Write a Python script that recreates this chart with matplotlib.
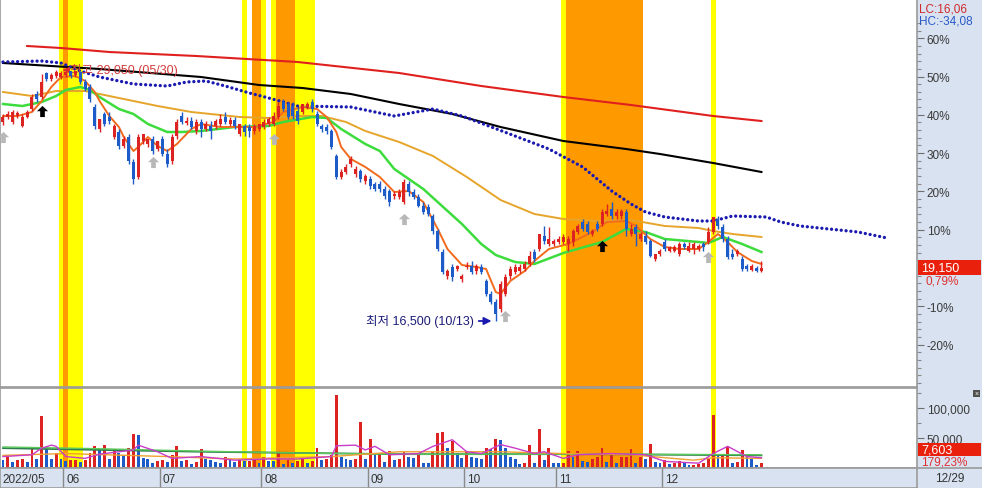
import matplotlib
matplotlib.use("Agg")
import matplotlib.pyplot as plt
from matplotlib.patches import Rectangle
from matplotlib.lines import Line2D
from matplotlib.path import Path
from matplotlib.ticker import FixedLocator, FixedFormatter

plt.rcParams['font.family'] = ['Liberation Sans', 'Noto Sans CJK KR', 'DejaVu Sans']

# ---------------- data ----------------
opens = [26450, 26700, 26450, 26750, 26250, 26700, 27100, 27850, 27700, 28900,
         28600, 28750, 28700, 28800, 29000, 28800, 28950, 28450, 28200, 27200,
         26100, 26850, 26700, 25700, 25950, 25250, 25700, 24450, 23700, 25500,
         25350, 25600, 25100, 25600, 24850, 24500, 25750, 26750, 26400, 26500,
         26000, 26450, 26100, 26250, 26250, 26350, 26700, 26350, 26550, 25850,
         26250, 26200, 26000, 26100, 26200, 26350, 26350, 26700, 27450, 27350,
         27250, 27000, 26950, 27200, 27450, 26850, 26250, 26200, 26000, 24750,
         23700, 23950, 24350, 23850, 24000, 23500, 23600, 23350, 23350, 23100,
         23000, 22750, 22700, 22450, 23350, 22950, 22700, 22250, 22200, 21750,
         21000, 19950, 18750, 19200, 19100, 18600, 19200, 19250, 19000, 19200,
         18500, 17850, 17450, 17100, 17850, 18750, 18950, 19000, 19100, 19350,
         19950, 20100, 20750, 20350, 20350, 20450, 20450, 20350, 20450, 20950,
         21450, 21350, 20850, 21350, 21350, 21850, 22100, 21750, 21750, 21950,
         20850, 21200, 20600, 20750, 20500, 19600, 19850, 20450, 20000, 20000,
         19850, 20350, 20000, 20100, 20100, 20350, 20450, 20950, 21600, 21200,
         20600, 19850, 19850, 19600, 19250, 19050, 19150, 19000]
highs = [26850, 27000, 27050, 27000, 26850, 27050, 27850, 28000, 28850, 28950,
         28900, 29050, 29000, 29000, 29000, 29000, 29000, 28600, 28350, 27350,
         26600, 26950, 26950, 26350, 26100, 25750, 25850, 24600, 25850, 25850,
         25600, 25750, 25500, 25750, 25100, 25850, 26600, 26950, 26700, 26700,
         26600, 26600, 26500, 26500, 26600, 26850, 26950, 26700, 26700, 26350,
         26350, 26350, 26350, 26350, 26600, 26700, 26950, 27450, 27600, 27450,
         27450, 27200, 27350, 27450, 27600, 27000, 26350, 26350, 26100, 24850,
         24100, 24350, 24750, 24250, 24100, 23850, 23750, 23450, 23500, 23250,
         23100, 23000, 23100, 23600, 23500, 23100, 22850, 22450, 22350, 21850,
         21100, 20100, 19100, 19350, 19300, 18850, 19450, 19500, 19350, 19350,
         18600, 18000, 17600, 18500, 18850, 19250, 19350, 19350, 19500, 20000,
         20100, 20850, 21250, 21200, 20600, 20750, 20850, 20750, 21100, 21350,
         21600, 21500, 21100, 21500, 22100, 22350, 22450, 22100, 22100, 22100,
         21350, 21350, 20950, 21000, 20600, 19850, 20100, 20600, 20250, 20300,
         20450, 20450, 20450, 20450, 20350, 20450, 21200, 21700, 21750, 21350,
         20750, 20100, 20100, 19750, 19350, 19350, 19250, 19500]
lows = [26300, 26600, 26350, 26650, 26200, 26650, 27000, 27450, 27600, 28500,
        28500, 28650, 28600, 28700, 28650, 28700, 28350, 28000, 27450, 26100,
        25950, 26250, 26350, 25600, 25100, 25150, 24350, 23350, 23600, 25350,
        25200, 24850, 25000, 24750, 24200, 24350, 25600, 26350, 26300, 26100,
        25850, 25700, 26000, 25600, 26100, 26250, 26350, 26250, 26100, 25750,
        25750, 25700, 25850, 26000, 26100, 26250, 26250, 26600, 27000, 26600,
        26600, 26350, 26850, 27100, 26950, 26250, 25950, 25850, 25100, 23600,
        23600, 23850, 24200, 23700, 23450, 23350, 23100, 23000, 22950, 22600,
        22250, 22600, 22600, 22350, 22750, 22600, 22200, 21850, 21750, 20850,
        20000, 18850, 18600, 18500, 19000, 18450, 19100, 18850, 18850, 18850,
        17750, 17350, 16500, 16950, 17750, 18600, 18850, 18900, 19000, 19250,
        19450, 20000, 20350, 20250, 20250, 20350, 20350, 20000, 20250, 20850,
        21000, 20850, 20750, 21000, 21250, 21750, 21600, 21600, 21600, 20750,
        20750, 20250, 20500, 20350, 19700, 19500, 19750, 20000, 19950, 19950,
        19750, 20100, 19950, 19850, 20000, 20000, 20350, 20850, 21100, 20450,
        19600, 19600, 19750, 19000, 19000, 19000, 18950, 18950]
closes = [26700, 26850, 26950, 26900, 26700, 26950, 27700, 27600, 28450, 28600,
          28800, 28950, 28900, 28950, 28750, 29000, 28450, 28100, 27600, 26250,
          26600, 26350, 26500, 26250, 25250, 25600, 24500, 23600, 25700, 25850,
          25600, 25000, 25500, 24850, 24350, 25700, 26450, 26450, 26500, 26200,
          26450, 26100, 26350, 26000, 26500, 26600, 26450, 26550, 26250, 26350,
          25950, 26000, 26250, 26350, 26450, 26600, 26750, 27250, 27100, 26700,
          26750, 26500, 27350, 27350, 27100, 26350, 26100, 26000, 25200, 23700,
          23950, 24200, 24600, 24100, 23600, 23750, 23250, 23100, 23100, 22750,
          22450, 22850, 22950, 23450, 22950, 22700, 22250, 21950, 21850, 21000,
          20100, 18950, 19000, 18700, 19250, 18750, 19250, 18950, 19250, 18950,
          17850, 17450, 16850, 18350, 18700, 19100, 19200, 19200, 19350, 19750,
          19600, 20850, 20500, 20600, 20500, 20600, 20700, 20600, 21000, 21250,
          21100, 20950, 21000, 21100, 21950, 22000, 21750, 21950, 22000, 21100,
          21100, 20850, 20850, 20450, 19750, 19850, 20000, 20100, 20200, 20200,
          20350, 20200, 20250, 20350, 20250, 20200, 20950, 21700, 21250, 20600,
          19700, 19700, 20000, 19100, 19100, 19250, 19000, 19150]
volumes = [13000, 18000, 10000, 13000, 15000, 10000, 35000, 15000, 87000, 35000,
           15000, 25000, 15000, 12000, 13000, 14000, 10000, 13000, 25000, 36000,
           30000, 38000, 15000, 32000, 25000, 22000, 33000, 56000, 55000, 17000,
           15000, 9000, 12000, 13000, 10000, 22000, 36000, 12000, 13000, 6000,
           10000, 32000, 15000, 13000, 10000, 9000, 18000, 13000, 10000, 13000,
           11000, 12000, 13000, 8000, 18000, 12000, 11000, 25000, 6000, 13000,
           8000, 12000, 15000, 8000, 12000, 33000, 13000, 15000, 22000, 122000,
           18000, 15000, 13000, 15000, 77000, 15000, 48000, 22000, 25000, 10000,
           28000, 13000, 15000, 27000, 18000, 17000, 25000, 9000, 8000, 27000,
           58000, 60000, 33000, 45000, 25000, 17000, 27000, 18000, 17000, 15000,
           33000, 32000, 48000, 46000, 33000, 18000, 15000, 6000, 8000, 38000,
           9000, 65000, 13000, 33000, 9000, 8000, 9000, 28000, 18000, 28000,
           12000, 10000, 15000, 18000, 33000, 10000, 23000, 8000, 18000, 19000,
           32000, 8000, 18000, 15000, 40000, 10000, 9000, 13000, 6000, 9000,
           12000, 8000, 4500, 5000, 6000, 9000, 15000, 88000, 20000, 22000,
           35000, 8000, 10000, 30000, 18000, 15000, 5000, 7603]

month_labels = ["2022/05", "06", "07", "08", "09", "10", "11", "12"]
month_starts = [0, 13, 33, 54, 76, 96, 115, 137]
last_date_label = "12/29"

ma5_idx = [0, 3, 6, 8, 10, 12, 15, 17, 19, 20, 22, 24, 25, 27, 28, 30, 32, 34, 36, 39,
           41, 45, 52, 56, 58, 62, 65, 67, 69, 70, 72, 75, 78, 81, 84, 87, 90, 92, 95, 98,
           100, 102, 103, 105, 108, 110, 113, 117, 122, 125, 129, 131, 134, 137, 140, 144,
           146, 148, 150, 152, 155, 157]
ma5_val = [26750, 26750, 26950, 27500, 28200, 28700, 28750, 28500, 27950, 27500,
           26750, 26200, 25700, 25000, 25200, 25700, 25250, 25000, 25350, 26100,
           26350, 26200, 26200, 26450, 26950, 27200, 27100, 26700, 25950, 25200,
           24600, 24200, 23700, 22950, 23000, 22450, 21100, 20100, 19300, 19200,
           19100, 17950, 17850, 18500, 19000, 19500, 20100, 20350, 20950, 21450,
           21500, 21250, 20600, 20200, 20100, 20100, 20450, 20850, 20450, 19950,
           19500, 19350]
ma20_idx = [0, 4, 8, 11, 13, 16, 18, 20, 24, 27, 30, 34, 37, 41, 48, 55, 58, 64, 67, 70,
            75, 78, 81, 87, 95, 99, 102, 106, 110, 116, 124, 129, 133, 137, 144, 146,
            149, 153, 157]
ma20_val = [27350, 27250, 27450, 27750, 28050, 28200, 28050, 27700, 27100, 26850,
            26350, 25950, 25950, 26000, 26200, 26250, 26450, 26700, 26650, 26100,
            25350, 25000, 24100, 23100, 21350, 20350, 19800, 19450, 19350, 19900,
            20450, 21100, 20950, 20600, 20450, 20400, 20700, 20350, 19950]
ma60_idx = [0, 6, 11, 17, 22, 27, 32, 39, 49, 55, 61, 66, 71, 75, 82, 89, 96, 103, 110,
            116, 123, 130, 137, 144, 147, 151, 157]
ma60_val = [27950, 27750, 28000, 28000, 27750, 27500, 27250, 26950, 26700, 26650,
            26750, 26750, 26450, 26000, 25450, 24750, 23700, 22550, 21850, 21600,
            21500, 21550, 21250, 21150, 21000, 20850, 20700]
ma120_idx = [0, 20, 41, 53, 62, 72, 82, 93, 103, 116, 129, 136, 147, 157]
ma120_val = [29400, 29100, 28700, 28300, 28150, 27850, 27350, 26850, 26200, 25500,
             25100, 24850, 24400, 23950]
ma240_idx = [5, 12, 22, 40, 61, 82, 99, 116, 130, 147, 157]
ma240_val = [30250, 30150, 29950, 29750, 29450, 28900, 28250, 27700, 27300, 26750, 26500]
span_idx = [0, 8, 12, 16, 20, 27, 34, 38, 42, 46, 51, 55, 61, 72, 81, 89, 95, 100, 106,
            113, 120, 126, 130, 133, 137, 144, 147, 151, 158, 161, 165, 173, 177, 183]
span_val = [29450, 29500, 29400, 29000, 28700, 28350, 28250, 28450, 28500, 28250,
            27900, 27650, 27250, 27200, 26750, 27100, 26750, 26300, 25750, 25100,
            24200, 23000, 22350, 21950, 21700, 21500, 21500, 21750, 21700, 21450,
            21250, 21050, 20950, 20650]

vma5_idx = [0, 6, 8, 10, 11, 13, 17, 20, 27, 28, 32, 35, 41, 48, 55, 61, 68, 69, 73, 75,
            77, 80, 86, 89, 93, 96, 99, 103, 106, 110, 112, 116, 119, 126, 133, 137, 144,
            147, 150, 154, 157]
vma5_val = [19000, 22000, 33000, 38000, 36000, 19000, 16000, 23000, 30000, 38000,
            27000, 16000, 19000, 13000, 15000, 15000, 19000, 37000, 38000, 30000,
            36000, 22000, 24000, 36000, 47000, 27000, 24000, 39000, 33000, 24000,
            27000, 16000, 22000, 24000, 22000, 11000, 8000, 24000, 36000, 19000, 17000]
vma20_idx = [0, 13, 34, 48, 68, 82, 103, 116, 130, 143, 147, 157]
vma20_val = [21000, 24000, 19000, 15000, 19000, 27000, 27000, 24000, 22000, 13000, 17000, 16000]
vma60_idx = [0, 20, 41, 61, 82, 103, 130, 157]
vma60_val = [35000, 32000, 28000, 25000, 23000, 23000, 23000, 22000]
vma120_idx = [0, 41, 82, 120, 157]
vma120_val = [33000, 27000, 23000, 23000, 21000]

yellow_days = [12, 14, 15, 16, 50, 54, 56, 61, 62, 63, 64, 116, 147]
orange_days = [13, 52, 53, 57, 58, 59, 60] + list(range(117, 133))

gray_sig_idx = [0, 31, 56, 83, 104, 146]
gray_sig_price = [25700, 24450, 25600, 21600, 16750, 19700]
black_sig_idx = [8, 124]
black_sig_price = [27000, 20250]

base_price = 19150
pct_ticks = [60, 50, 40, 30, 20, 10, 0, -10, -20]
pct_labels = ["60%", "50%", "40%", "30%", "20%", "10%", "", "-10%", "-20%"]
vol_ticks = [50000, 100000]
vol_labels = ["50,000", "100,000"]

high_label = "최고 29,050 (05/30)"
low_label = "최저 16,500 (10/13)"
high_idx, high_price = 11, 29050
low_idx, low_price = 102, 16500

# ---------------- style ----------------
W, H = 982, 489
UP = '#dd2222'
DOWN = '#1c5bc8'
PANEL = '#d8e2f0'
EDGE = '#9a9a9a'
XLO, XHI = -0.62, 189.2

fig = plt.figure(figsize=(W / 100, H / 100), dpi=100, facecolor='white')


def px_axes(x0, y0, x1, y1, **kw):
    return fig.add_axes([x0 / W, 1 - y1 / H, (x1 - x0) / W, (y1 - y0) / H], **kw)


def ftext(x, y, s, **kw):
    fig.text(x / W, 1 - y / H, s, **kw)


def frect(x0, y0, x1, y1, **kw):
    fig.add_artist(Rectangle((x0 / W, 1 - y1 / H), (x1 - x0) / W, (y1 - y0) / H,
                             transform=fig.transFigure, **kw))


# backgrounds for the right panel and date strip
frect(917, 0, 982, 489, facecolor=PANEL, edgecolor='none', zorder=-2)
frect(0, 469, 917, 489, facecolor=PANEL, edgecolor='none', zorder=-2)

# ---------------- price panel ----------------
ax = px_axes(0, 0, 917, 388)
ax.set_facecolor('white')
ax.set_xlim(XLO, XHI)
ax.set_ylim(13200, 32600)

for d in yellow_days:
    ax.axvspan(d - 0.5, d + 0.5, color='#ffff00', lw=0, zorder=0)
for d in orange_days:
    ax.axvspan(d - 0.5, d + 0.5, color='#ff9900', lw=0, zorder=0)

ax.plot(ma240_idx, ma240_val, color='#e0201e', lw=1.5, zorder=2)
ax.plot(ma120_idx, ma120_val, color='black', lw=1.5, zorder=2)
ax.plot(ma60_idx, ma60_val, color='#e6a52a', lw=1.4, zorder=2)
ax.plot(ma20_idx, ma20_val, color='#3ddc3d', lw=1.8, zorder=2)
ax.plot(ma5_idx, ma5_val, color='#f26b1d', lw=1.4, zorder=2.2)
ax.plot(span_idx, span_val, color='#1a1ab0', lw=2.4, linestyle=(0, (0.01, 1.45)),
        dash_capstyle='round', zorder=2.5)

n = len(closes)
xs = list(range(n))
cols = [UP if closes[i] >= opens[i] else DOWN for i in xs]
ax.vlines(xs, lows, highs, colors=cols, lw=1, zorder=3)
bottoms = [min(opens[i], closes[i]) for i in xs]
heights = [max(abs(closes[i] - opens[i]), 50) for i in xs]
ax.bar(xs, heights, bottom=bottoms, width=0.62, color=cols, lw=0, zorder=3.1)

arrow_path = Path([(0, 1), (-1, 0.05), (-0.42, 0.05), (-0.42, -1), (0.42, -1), (0.42, 0.05),
                   (1, 0.05), (0, 1)],
                  [Path.MOVETO] + [Path.LINETO] * 6 + [Path.CLOSEPOLY])
ax.plot(gray_sig_idx, gray_sig_price, linestyle='none', marker=arrow_path, ms=8,
        color='#b8b8b8', mec='none', zorder=4)
ax.plot(black_sig_idx, black_sig_price, linestyle='none', marker=arrow_path, ms=8,
        color='black', mec='none', zorder=4)

# high / low annotations
ax.annotate('', xy=(high_idx + 0.8, high_price), xytext=(high_idx + 2.6, high_price),
            arrowprops=dict(arrowstyle='-|>', color='#d83030', lw=1.2, mutation_scale=8),
            zorder=2.8)
ax.text(high_idx + 2.8, high_price, high_label, color='#d23c3c', fontsize=9,
        va='center', ha='left', zorder=2.8)
ax.text(low_idx - 4.6, low_price, low_label, color='#1c1c78', fontsize=9,
        va='center', ha='right', zorder=5)
ax.annotate('', xy=(low_idx - 0.3, low_price), xytext=(low_idx - 4.1, low_price),
            arrowprops=dict(arrowstyle='-|>', color='#1a1ab0', lw=1.3, mutation_scale=11),
            zorder=5)

ax.set_xticks([])
ax.yaxis.tick_right()
ax.yaxis.set_major_locator(FixedLocator([base_price * (1 + p / 100) for p in pct_ticks]))
ax.yaxis.set_major_formatter(FixedFormatter(pct_labels))
ax.yaxis.set_minor_locator(FixedLocator([base_price * (1 + p / 100) for p in range(-30, 66, 2)]))
ax.tick_params(axis='y', which='major', length=5, width=0.8, color='#707070',
               labelsize=8.5, labelcolor='#3a3a3a', pad=2)
ax.tick_params(axis='y', which='minor', length=3, width=0.8, color='#8a8a8a')
for s in ax.spines.values():
    s.set_color(EDGE)
    s.set_linewidth(1.2)

# ---------------- volume panel ----------------
vax = px_axes(0, 389, 917, 469)
vax.set_facecolor('white')
vax.set_xlim(XLO, XHI)
vax.set_ylim(0, 133000)
for d in yellow_days:
    vax.axvspan(d - 0.5, d + 0.5, color='#ffff00', lw=0, zorder=0)
for d in orange_days:
    vax.axvspan(d - 0.5, d + 0.5, color='#ff9900', lw=0, zorder=0)
vcols = [DOWN] + [UP if volumes[i] > volumes[i - 1] else DOWN for i in range(1, n)]
vax.bar(xs, volumes, width=0.6, color=vcols, lw=0, zorder=2)
vax.plot(vma120_idx, vma120_val, color='#2e7d4f', lw=1.3, zorder=3)
vax.plot(vma60_idx, vma60_val, color='#5cc85c', lw=1.0, zorder=3)
vax.plot(vma20_idx, vma20_val, color='#f0a030', lw=1.0, zorder=3)
vax.plot(vma5_idx, vma5_val, color='#c83cc8', lw=1.0, zorder=3)
vax.set_xticks([])
vax.yaxis.tick_right()
vax.yaxis.set_major_locator(FixedLocator(vol_ticks))
vax.yaxis.set_major_formatter(FixedFormatter(vol_labels))
vax.yaxis.set_minor_locator(FixedLocator([25000, 75000, 125000]))
vax.tick_params(axis='y', which='major', length=5, width=0.8, color='#707070',
                labelsize=8.5, labelcolor='#3a3a3a', pad=2)
vax.tick_params(axis='y', which='minor', length=3, width=0.8, color='#8a8a8a')
for s in vax.spines.values():
    s.set_color(EDGE)
    s.set_linewidth(1.2)

# ---------------- date strip ----------------
dax = px_axes(0, 469, 917, 489)
dax.set_facecolor(PANEL)
dax.set_xlim(XLO, XHI)
dax.set_ylim(0, 1)
dax.set_xticks([])
dax.set_yticks([])
for k, (m, lab) in enumerate(zip(month_starts, month_labels)):
    if k > 0:
        dax.axvline(m - 0.5, color='#8a8a8a', lw=1)
        dax.text(m - 0.5 + 0.6, 0.45, lab, fontsize=8.5, color='#333333',
                 va='center', ha='left')
    else:
        dax.text(XLO + 0.6, 0.45, lab, fontsize=8.5, color='#333333',
                 va='center', ha='left')
for s in dax.spines.values():
    s.set_color(EDGE)
    s.set_linewidth(1.2)

fig.add_artist(Line2D([917 / W, 1], [1 - 469 / H, 1 - 469 / H], transform=fig.transFigure,
                      color=EDGE, lw=1.2))
ftext(935, 479, last_date_label, fontsize=8.5, color='#333333', va='center', ha='left')

# ---------------- right panel texts ----------------
ftext(919, 10, "LC:16,06", fontsize=8.5, color='#d02a2a', va='center', ha='left')
ftext(919, 22, "HC:-34,08", fontsize=8.5, color='#2a5ac8', va='center', ha='left')

frect(918, 261, 981, 276, facecolor='#e8200c', edgecolor='none', zorder=5)
ftext(921, 268.5, "19,150", fontsize=9, color='white', va='center', ha='left', zorder=6)
ftext(925, 282, "0,79%", fontsize=8.5, color='#e03030', va='center', ha='left', zorder=6)

frect(918, 444, 981, 457, facecolor='#e8200c', edgecolor='none', zorder=5)
ftext(921, 450.5, "7,603", fontsize=9, color='white', va='center', ha='left', zorder=6)
ftext(921, 463, "179,23%", fontsize=8.5, color='#e03030', va='center', ha='left', zorder=6)

frect(973, 391, 980, 398, facecolor='#505050', edgecolor='none', zorder=5)
ftext(976.5, 394.5, "×", fontsize=5, color='white', va='center', ha='center', zorder=6)

fig.savefig("out.png", dpi=100)
